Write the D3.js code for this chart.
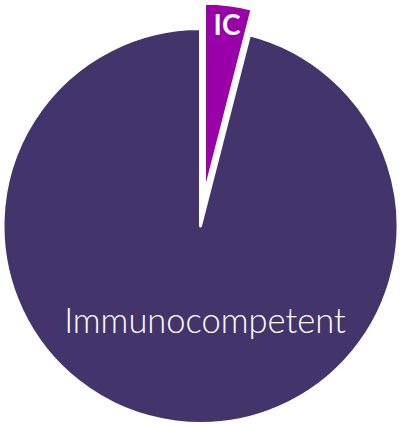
<!DOCTYPE html>
<html><head><meta charset="utf-8">
<script src="https://cdn.jsdelivr.net/npm/d3@7/dist/d3.min.js"></script>
<style>html,body{margin:0;padding:0;background:#fff;}svg{display:block;}</style>
</head><body>
<svg id="c" width="400" height="427"></svg>
<script>
const categories = ["IC", "Immunocompetent"];
const values = [4, 96];
const colors = ["#9a00a8", "#43346c"];
const labels = ["IC", "Immunocompetent"];

const svg = d3.select("#c");
const cx = 200.5, cy = 226, R = 197.5;
const g = svg.append("g").attr("transform", `translate(${cx},${cy})`);
const pie = d3.pie().sort(null).value(d => d)(values);
const arcMain = d3.arc().innerRadius(0).outerRadius(R);
const arcIC = d3.arc().innerRadius(0).outerRadius(191);
const explode = 32;

pie.forEach((p, i) => {
  const mid = (p.startAngle + p.endAngle) / 2;
  const off = i === 0 ? explode : 0;
  const dx = off * Math.sin(mid), dy = -off * Math.cos(mid);
  const sg = g.append("g").attr("transform", `translate(${dx},${dy})`);
  sg.append("path").attr("d", (i === 0 ? arcIC : arcMain)(p))
    .attr("fill", colors[i]).attr("stroke", "#fff").attr("stroke-width", 3).attr("stroke-linejoin", "round");
});

svg.append("text").text(labels[0])
  .attr("x", 227).attr("y", 35)
  .attr("text-anchor", "middle")
  .attr("font-family", "Lato, 'Open Sans', sans-serif").attr("font-weight", 700)
  .attr("font-size", 28).attr("fill", "#fff");
svg.append("text").text(labels[1])
  .attr("x", 205).attr("y", 333)
  .attr("text-anchor", "middle")
  .attr("font-family", "Lato, 'Open Sans', sans-serif").attr("font-weight", 300)
  .attr("font-size", 34.5).attr("fill", "#fff");
</script>
</body></html>
